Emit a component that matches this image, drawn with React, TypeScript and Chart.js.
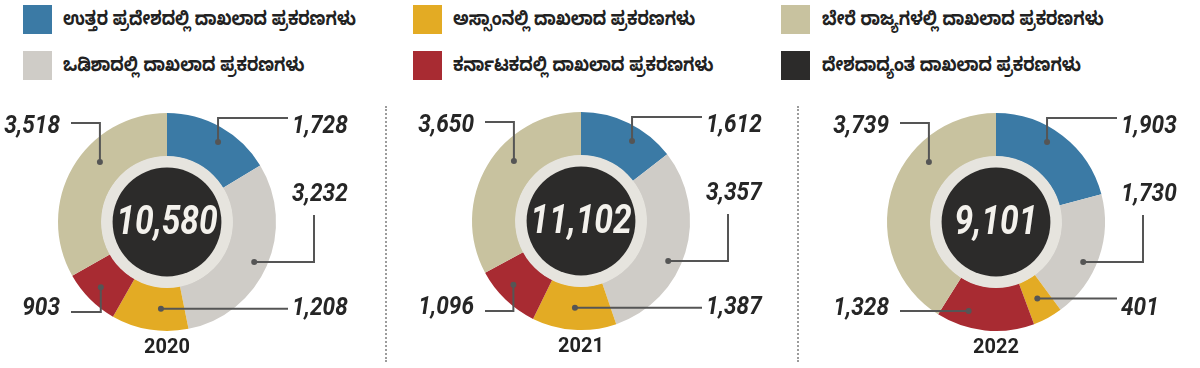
import React, { useEffect, useRef } from "react";
import { Chart, registerables } from "chart.js";

Chart.register(...registerables);

// ---- data ----
const years = ["2020", "2021", "2022"];
const totals = [10580, 11102, 9101];
const seriesNames = [
  "ಉತ್ತರ ಪ್ರದೇಶದಲ್ಲಿ ದಾಖಲಾದ ಪ್ರಕರಣಗಳು",
  "ಒಡಿಶಾದಲ್ಲಿ ದಾಖಲಾದ ಪ್ರಕರಣಗಳು",
  "ಅಸ್ಸಾಂನಲ್ಲಿ ದಾಖಲಾದ ಪ್ರಕರಣಗಳು",
  "ಕರ್ನಾಟಕದಲ್ಲಿ ದಾಖಲಾದ ಪ್ರಕರಣಗಳು",
  "ಬೇರೆ ರಾಜ್ಯಗಳಲ್ಲಿ ದಾಖಲಾದ ಪ್ರಕರಣಗಳು",
];
const totalName = "ದೇಶದಾದ್ಯಂತ ದಾಖಲಾದ ಪ್ರಕರಣಗಳು";
const uttarPradesh = [1728, 1612, 1903];
const odisha = [3232, 3357, 1730];
const assam = [1208, 1387, 401];
const karnataka = [903, 1096, 1328];
const otherStates = [3518, 3650, 3739];

// ---- styles ----
const colors = ["#3b7aa5", "#cfccc7", "#e3ab24", "#a82b32", "#c8c29f"];
const darkColor = "#2c2b2a";
const ringColor = "#e6e4de";
const lineColor = "#555555";
const numFont = "Roboto, sans-serif";
const knFont = '"Noto Sans Kannada", "Noto Sans", "DejaVu Sans", sans-serif';

// chart placement (absolute centers)
const centers = [
  { x: 167, y: 222 },
  { x: 581, y: 221 },
  { x: 996, y: 222 },
];
const R = 109;
const CANVAS_TOP = 90;
const CANVAS_W = 400;
const CANVAS_H = 278;
const CANVAS_STEP = 400;

// leader-line layout per category
const labelLayout = [
  { side: "right", ty: -97, lineY: -104, mode: "hv", angle: 32.5, r: 95 }, // UP
  { side: "right", ty: -29, lineY: 0, mode: "vh", angle: 114.7, r: 96 }, // Odisha
  { side: "right", ty: 85, lineY: 0, mode: "h", angle: 184, r: 87 }, // Assam
  { side: "left", ty: 85, lineY: 90, mode: "hv", angle: 229.7, r: 93 }, // Karnataka
  { side: "left", ty: -97, lineY: -99, mode: "hv", angle: 311.8, r: 90 }, // Other
];

const fmt = (n: number) => n.toLocaleString("en-US");

function condensedText(
  ctx: CanvasRenderingContext2D,
  text: string,
  x: number,
  y: number,
  sx: number
) {
  ctx.save();
  ctx.translate(x, y);
  ctx.scale(sx, 1);
  ctx.fillText(text, 0, 0);
  ctx.restore();
}

function Donut({ idx }: { idx: number }) {
  const ref = useRef<HTMLCanvasElement>(null);
  useEffect(() => {
    const cxr = centers[idx].x - idx * CANVAS_STEP;
    const cyr = centers[idx].y - CANVAS_TOP;
    const values = [uttarPradesh[idx], odisha[idx], assam[idx], karnataka[idx], otherStates[idx]];
    const plugin = {
      id: "decor" + idx,
      afterDatasetsDraw(chart: any) {
        const ctx = chart.ctx as CanvasRenderingContext2D;
        const meta = chart.getDatasetMeta(0);
        const first = meta.data[0] as any;
        const cx = first.x;
        const cy = first.y;
        const inner = first.innerRadius;
        ctx.save();
        // center ring + dark disc
        ctx.beginPath();
        ctx.arc(cx, cy, inner + 0.5, 0, Math.PI * 2);
        ctx.fillStyle = ringColor;
        ctx.fill();
        ctx.beginPath();
        ctx.arc(cx, cy, inner - 11, 0, Math.PI * 2);
        ctx.fillStyle = darkColor;
        ctx.fill();
        ctx.fillStyle = "#f3f1ec";
        ctx.font = `italic bold 40px ${numFont}`;
        ctx.textAlign = "center";
        ctx.textBaseline = "middle";
        condensedText(ctx, fmt(totals[idx]), cx, cy + 2, 0.84);

        // leader lines + labels
        meta.data.forEach((arc: any, i: number) => {
          const p = arc.getProps(["startAngle", "endAngle"], true);
          const L = labelLayout[i];
          // angles measured clockwise from top, in degrees
          const s = (p.startAngle * 180) / Math.PI + 90;
          const e = (p.endAngle * 180) / Math.PI + 90;
          const margin = Math.min(15, (e - s) / 2);
          let a = L.angle;
          if (a < s + margin) a = s + margin;
          if (a > e - margin) a = e - margin;
          const rad = ((a - 90) * Math.PI) / 180;
          const dx = cx + Math.cos(rad) * L.r;
          const dy = cy + Math.sin(rad) * L.r;
          const right = L.side === "right";
          const startX = cx + (right ? 121 : -96);
          const ty = cy + L.ty;
          ctx.strokeStyle = lineColor;
          ctx.lineWidth = 2;
          ctx.beginPath();
          if (L.mode === "vh") {
            const vx = cx + 147;
            ctx.moveTo(vx, ty + 22);
            ctx.lineTo(vx, dy);
            ctx.lineTo(dx, dy);
          } else if (L.mode === "h" || Math.abs(dy - ty) < 14) {
            ctx.moveTo(startX, dy);
            ctx.lineTo(dx, dy);
          } else {
            const ly = cy + L.lineY;
            ctx.moveTo(startX, ly);
            ctx.lineTo(dx, ly);
            ctx.lineTo(dx, dy);
          }
          ctx.stroke();
          ctx.beginPath();
          ctx.arc(dx, dy, 3, 0, Math.PI * 2);
          ctx.fillStyle = lineColor;
          ctx.fill();

          ctx.fillStyle = "#262626";
          ctx.font = `italic bold 26px ${numFont}`;
          ctx.textBaseline = "middle";
          ctx.textAlign = right ? "left" : "right";
          condensedText(ctx, fmt(values[i]), cx + (right ? 125 : -107), ty + 1, 0.87);
        });

        // year
        ctx.fillStyle = "#222222";
        ctx.font = `bold 21px ${numFont}`;
        ctx.textAlign = "center";
        ctx.textBaseline = "middle";
        condensedText(ctx, years[idx], cx, cy + 126, 0.95);
        ctx.restore();
      },
    };
    const chart = new Chart(ref.current!, {
      type: "doughnut",
      data: {
        labels: seriesNames,
        datasets: [
          {
            data: values,
            backgroundColor: colors,
            borderWidth: 0,
          },
        ],
      },
      options: {
        responsive: false,
        animation: false,
        events: [],
        cutout: "60%",
        layout: {
          padding: {
            left: cxr - R,
            right: CANVAS_W - cxr - R,
            top: cyr - R,
            bottom: CANVAS_H - cyr - R,
          },
        },
        plugins: { legend: { display: false }, tooltip: { enabled: false } },
      },
      plugins: [plugin],
    });
    return () => chart.destroy();
  }, [idx]);
  return (
    <canvas
      ref={ref}
      width={CANVAS_W}
      height={CANVAS_H}
      style={{ position: "absolute", left: idx * CANVAS_STEP, top: CANVAS_TOP, width: CANVAS_W, height: CANVAS_H }}
    />
  );
}

const legendItems = [
  { name: seriesNames[0], color: colors[0], col: 0, row: 0 },
  { name: seriesNames[2], color: colors[2], col: 1, row: 0 },
  { name: seriesNames[4], color: colors[4], col: 2, row: 0 },
  { name: seriesNames[1], color: colors[1], col: 0, row: 1 },
  { name: seriesNames[3], color: colors[3], col: 1, row: 1 },
  { name: totalName, color: darkColor, col: 2, row: 1 },
];
const legendSquareX = [23, 413, 781];
const legendTextX = [63, 453, 822];

export default function App() {
  useEffect(() => {
    document.body.style.margin = "0";
    document.body.style.background = "#ffffff";
  }, []);
  return (
    <div style={{ position: "relative", width: 1200, height: 368, background: "#fff", overflow: "hidden" }}>
      {legendItems.map((it, k) => (
        <React.Fragment key={k}>
          <div
            style={{
              position: "absolute",
              left: legendSquareX[it.col],
              top: 5 + it.row * 46,
              width: 29,
              height: 29,
              background: it.color,
            }}
          />
          <div
            style={{
              position: "absolute",
              left: legendTextX[it.col],
              top: 8 + it.row * 46,
              height: 29,
              lineHeight: "29px",
              fontFamily: knFont,
              fontWeight: 700,
              fontSize: 19,
              color: "#222",
              whiteSpace: "nowrap",
              transform: "scaleX(0.86)",
              transformOrigin: "left center",
            }}
          >
            {it.name}
          </div>
        </React.Fragment>
      ))}
      {[385, 797].map((x) => (
        <div
          key={x}
          style={{ position: "absolute", left: x, top: 106, height: 256, borderLeft: "2px dotted #9c9c9c" }}
        />
      ))}
      {years.map((_, i) => (
        <Donut key={i} idx={i} />
      ))}
    </div>
  );
}
